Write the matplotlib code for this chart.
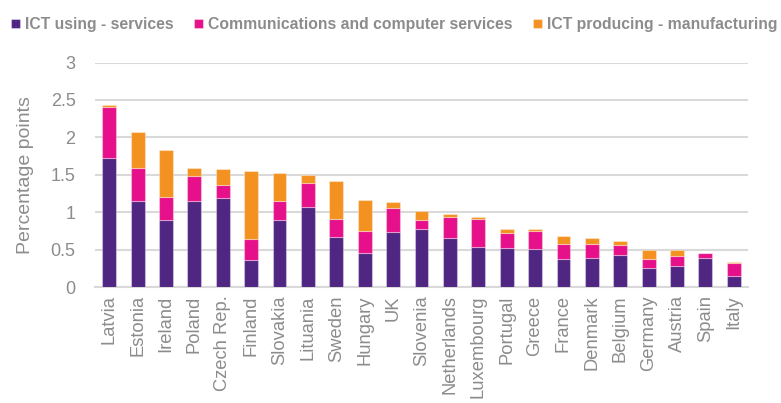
import matplotlib
matplotlib.use("Agg")
import matplotlib.pyplot as plt
from matplotlib import font_manager

# Data

countries = ["Latvia", "Estonia", "Ireland", "Poland", "Czech Rep.", "Finland",
             "Slovakia", "Lituania", "Sweden", "Hungary", "UK", "Slovenia",
             "Netherlands", "Luxembourg", "Portugal", "Greece", "France",
             "Denmark", "Belgium", "Germany", "Austria", "Spain", "Italy"]
ict_using = [1.72, 1.15, 0.89, 1.15, 1.19, 0.36, 0.89, 1.07, 0.67, 0.45, 0.73, 0.77,
             0.65, 0.53, 0.52, 0.51, 0.37, 0.39, 0.43, 0.25, 0.28, 0.39, 0.15]
comm_services = [0.68, 0.44, 0.31, 0.33, 0.17, 0.28, 0.26, 0.32, 0.24, 0.30, 0.32, 0.13,
                 0.28, 0.38, 0.20, 0.24, 0.20, 0.18, 0.13, 0.12, 0.14, 0.06, 0.17]
ict_manuf = [0.03, 0.48, 0.63, 0.11, 0.22, 0.91, 0.37, 0.11, 0.51, 0.41, 0.09, 0.12,
             0.05, 0.02, 0.06, 0.02, 0.11, 0.09, 0.06, 0.13, 0.07, 0.01, 0.01]

series_names = ["ICT using - services", "Communications and computer services",
                "ICT producing - manufacturing"]
colors = ["#502683", "#E6118A", "#F39220"]

names = {f.name for f in font_manager.fontManager.ttflist}
main_font = "Liberation Sans" if "Liberation Sans" in names else "DejaVu Sans"
plt.rcParams["font.family"] = [main_font, "DejaVu Sans"]

grey = "#8c8c8c"

fig = plt.figure(figsize=(7.81, 4.03), dpi=100)
ax = fig.add_axes([95 / 781, 1 - 287 / 403, 653 / 781, 224.5 / 403])

x = range(len(countries))
bottom2 = list(ict_using)
bottom3 = [a + b for a, b in zip(ict_using, comm_services)]
edge = (1, 1, 1, 0.35)
ax.bar(x, ict_using, width=0.49, color=colors[0], edgecolor=edge, linewidth=0.8,
       label=series_names[0], zorder=3)
ax.bar(x, comm_services, width=0.49, bottom=bottom2, color=colors[1], edgecolor=edge,
       linewidth=0.8, label=series_names[1], zorder=3)
ax.bar(x, ict_manuf, width=0.49, bottom=bottom3, color=colors[2], edgecolor=edge,
       linewidth=0.8, label=series_names[2], zorder=3)

ax.set_xlim(-0.5, len(countries) - 0.5)
ax.set_ylim(0, 3)
ax.set_yticks([0, 0.5, 1, 1.5, 2, 2.5, 3])
ax.set_yticklabels(["0", "0.5", "1", "1.5", "2", "2.5", "3"])
ax.yaxis.grid(True, color="#d9d9d9", linewidth=1.5, zorder=0)
ax.tick_params(axis="y", length=0, labelsize=13, labelcolor=grey, pad=14)
ax.set_xticks(list(x))
ax.set_xticklabels(countries, rotation=90, fontsize=13.2, color=grey)
ax.tick_params(axis="x", length=0, pad=6)
for s in ["top", "right", "left"]:
    ax.spines[s].set_visible(False)
ax.spines["bottom"].set_color("#d9d9d9")
ax.spines["bottom"].set_linewidth(1.5)

ax.set_ylabel("Percentage points", fontsize=14, color=grey, labelpad=12)

leg = fig.legend(loc="upper left", bbox_to_anchor=(0.0, 0.985), ncol=3, frameon=False,
                 fontsize=11.3, handlelength=0.55, handleheight=0.55, handletextpad=0.35,
                 columnspacing=1.3, borderaxespad=0.3)
for t in leg.get_texts():
    t.set_color(grey)
    t.set_fontweight("bold")

fig.savefig("out.png", dpi=100)
